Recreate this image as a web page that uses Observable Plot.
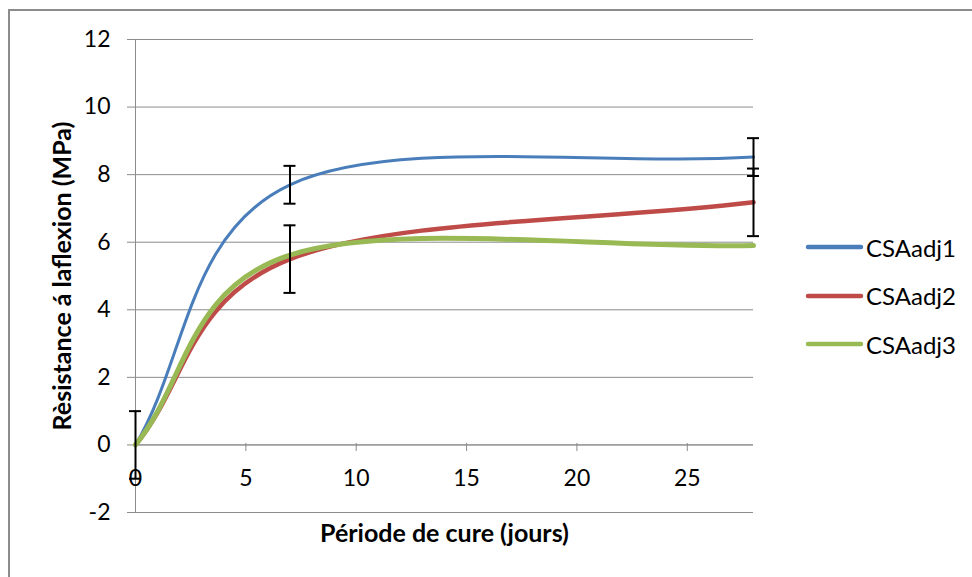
<!DOCTYPE html>
<html><head><meta charset="utf-8">
<script src="https://cdn.jsdelivr.net/npm/d3@7"></script>
<script src="https://cdn.jsdelivr.net/npm/@observablehq/plot@0.6"></script>
<style>
body{margin:0;background:#fff;}
#wrap{position:relative;width:972px;height:577px;overflow:hidden;font-family:Lato,sans-serif;}
#border{position:absolute;left:8px;top:9px;right:-5px;bottom:-5px;border-left:2px solid #8c8c8c;border-top:2px solid #8c8c8c;}
#chart{position:absolute;left:0;top:0;}
.item{position:absolute;left:805px;display:flex;align-items:center;white-space:nowrap;font-size:24px;color:#000;}
.item svg{margin-right:2px;}
</style></head>
<body><div id="wrap"><div id="border"></div><div id="chart"></div></div>
<script>
// Data
const days = [0, 7, 28];
const csaAdj1 = [0, 7.7, 8.52];
const csaAdj2 = [0, 5.5, 7.18];
const csaAdj3 = [0, 5.62, 5.9];
const errAdj1 = [0, 0.56, 0.56];
const errAdj2 = [1, 1.0, 1.0];
const errAdj3 = [0, 0, 0];
const seriesNames = ["CSAadj1", "CSAadj2", "CSAadj3"];
const xTicks = [0, 5, 10, 15, 20, 25];
const yTicks = [-2, 0, 2, 4, 6, 8, 10, 12];
const xTitle = "Période de cure (jours)";
const yTitle = "Rèsistance á laflexion (MPa)";

const seriesValues = [csaAdj1, csaAdj2, csaAdj3];
const seriesErrors = [errAdj1, errAdj2, errAdj3];
const colors = ["#4a7ebb", "#be4b48", "#98b954"];
const widths = [3, 4.5, 5];

const rows = seriesNames.flatMap((name, s) => days.map((d, i) => ({
  series: name, day: d, value: seriesValues[s][i], err: seriesErrors[s][i]
})));
const errRows = rows.filter(r => r.err > 0);

// Spreadsheet-style smoothing: uniform Catmull-Rom with reflected end points
function smoothCurve(context) {
  let pts = [];
  return {
    areaStart() {}, areaEnd() {},
    lineStart() { pts = []; },
    point(x, y) { pts.push([+x, +y]); },
    lineEnd() {
      const n = pts.length;
      if (!n) return;
      context.moveTo(pts[0][0], pts[0][1]);
      if (n === 2) { context.lineTo(pts[1][0], pts[1][1]); return; }
      const get = i => i < 0
        ? [2 * pts[0][0] - pts[1][0], 2 * pts[0][1] - pts[1][1]]
        : i >= n ? [2 * pts[n - 1][0] - pts[n - 2][0], 2 * pts[n - 1][1] - pts[n - 2][1]]
        : pts[i];
      for (let i = 0; i < n - 1; i++) {
        const p0 = get(i - 1), p1 = pts[i], p2 = pts[i + 1], p3 = get(i + 2);
        context.bezierCurveTo(
          p1[0] + (p2[0] - p0[0]) / 6, p1[1] + (p2[1] - p0[1]) / 6,
          p2[0] - (p3[0] - p1[0]) / 6, p2[1] - (p3[1] - p1[1]) / 6,
          p2[0], p2[1]);
      }
    }
  };
}

const grey = "#8c8c8c";
const chart = Plot.plot({
  width: 972, height: 577,
  marginLeft: 135, marginRight: 219, marginTop: 39, marginBottom: 65,
  style: {fontFamily: "Lato, sans-serif", fontSize: "22px", color: "black", background: "transparent"},
  x: {domain: [0, 28]},
  y: {domain: [-2, 12]},
  marks: [
    Plot.gridY(yTicks, {stroke: grey, strokeOpacity: 1}),
    Plot.ruleX([0], {stroke: grey}),
    Plot.ruleY([0], {stroke: grey}),
    Plot.axisY(yTicks, {tickSize: 8, tickPadding: 17, stroke: grey, fill: "black", label: null, fontSize: 23, tickFormat: d => String(d)}),
    Plot.axisX(xTicks, {anchor: "bottom", dy: -69, tickSize: 8, tickPadding: 18, stroke: grey, fill: "black", label: null, fontSize: 23, tickFormat: d => String(d)}),
    ...seriesNames.map((name, s) => Plot.line(rows.filter(r => r.series === name), {
      x: "day", y: "value", stroke: colors[s], strokeWidth: widths[s], curve: smoothCurve
    })),
    Plot.ruleX(errRows, {x: "day", y1: d => d.value - d.err, y2: d => d.value + d.err, stroke: "black", strokeWidth: 2}),
    Plot.ruleY(errRows, {y: d => d.value - d.err, x1: "day", x2: "day", insetLeft: -6, insetRight: -6, stroke: "black", strokeWidth: 2}),
    Plot.ruleY(errRows, {y: d => d.value + d.err, x1: "day", x2: "day", insetLeft: -6, insetRight: -6, stroke: "black", strokeWidth: 2}),
    Plot.text([yTitle], {frameAnchor: "left", rotate: -90, dx: -73, textAnchor: "middle", lineAnchor: "middle", fontWeight: "bold", fontSize: 25}),
    Plot.text([xTitle], {frameAnchor: "bottom", dy: 21, textAnchor: "middle", lineAnchor: "middle", fontWeight: "bold", fontSize: 25})
  ]
});
document.getElementById("chart").appendChild(chart);

// Legend
const wrap = document.getElementById("wrap");
seriesNames.forEach((name, s) => {
  const item = document.createElement("div");
  item.className = "item";
  item.style.top = (247 + s * 48.5 - 15) + "px";
  item.style.height = "30px";
  item.innerHTML = `<svg width="59" height="10"><line x1="3" y1="5" x2="56" y2="5" stroke="${colors[s]}" stroke-width="4.5" stroke-linecap="round"/></svg><span>${name}</span>`;
  wrap.appendChild(item);
});
</script>
</body></html>
